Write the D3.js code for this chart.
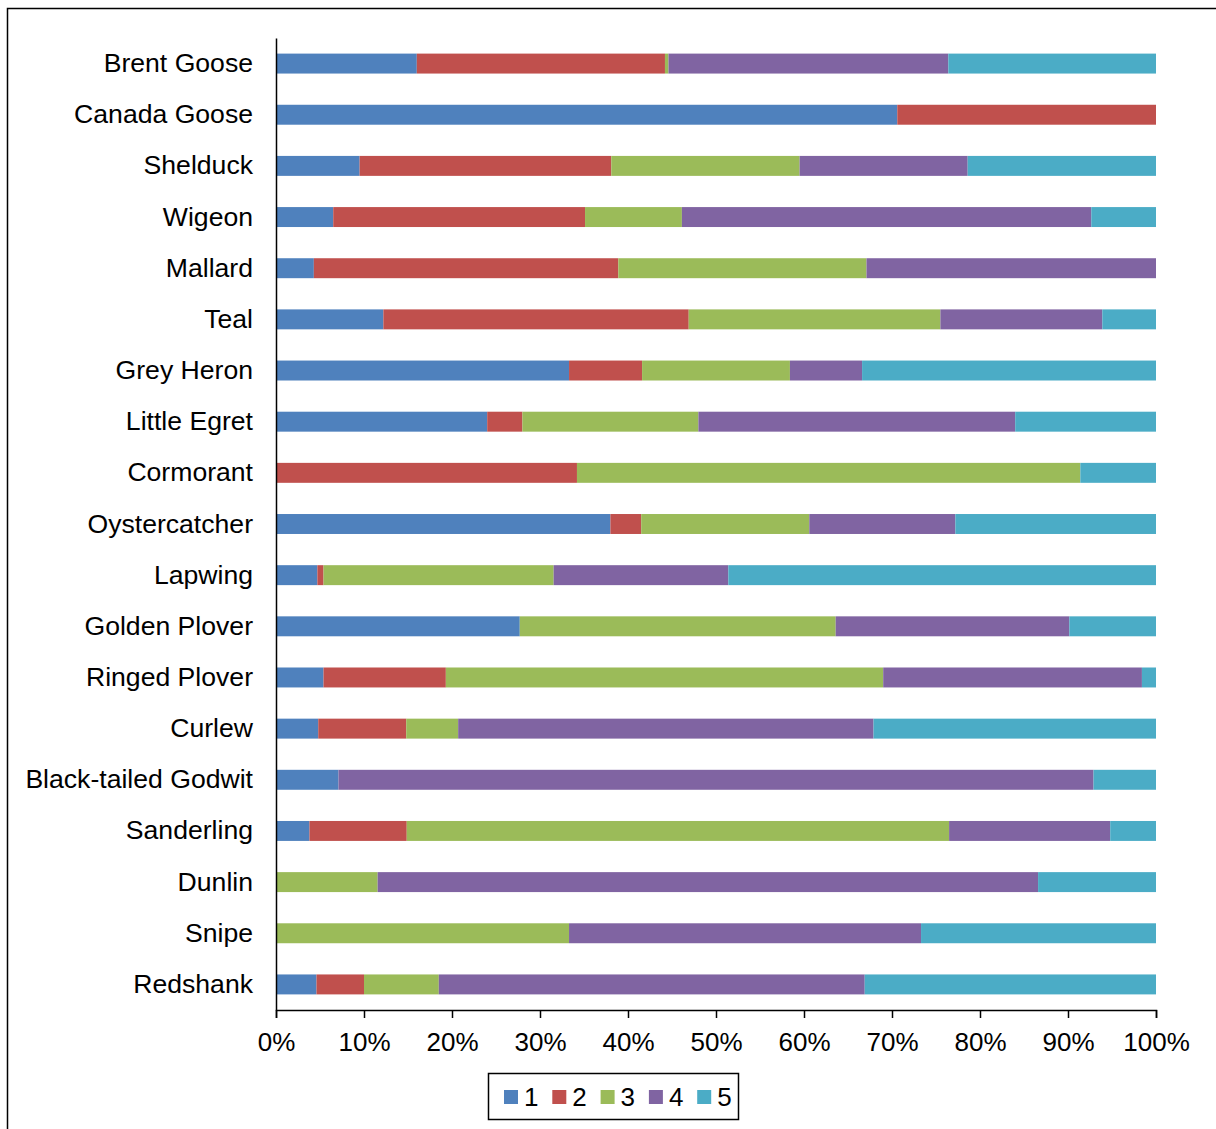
<!DOCTYPE html>
<html>
<head>
<meta charset="utf-8">
<script src="https://cdn.jsdelivr.net/npm/d3@7"></script>
<style>
  html, body { margin: 0; padding: 0; background: #fff; }
  svg { display: block; }
  text { font-family: "Liberation Sans", Arial, sans-serif; fill: #000; }
</style>
</head>
<body>
<svg id="chart" width="1216" height="1129"></svg>
<script>
const categories = ["Brent Goose","Canada Goose","Shelduck","Wigeon","Mallard","Teal","Grey Heron","Little Egret","Cormorant","Oystercatcher","Lapwing","Golden Plover","Ringed Plover","Curlew","Black-tailed Godwit","Sanderling","Dunlin","Snipe","Redshank"];
const seriesNames = ["1","2","3","4","5"];
const s1 = [16.0, 70.6, 9.5, 6.5, 4.3, 12.2, 33.3, 24.0, 0, 38.0, 4.7, 27.7, 5.4, 4.8, 7.1, 3.8, 0, 0, 4.6];
const s2 = [28.2, 29.4, 28.6, 28.6, 34.6, 34.7, 8.3, 4.0, 34.2, 3.5, 0.7, 0, 13.9, 10.0, 0, 11.05, 0, 0, 5.4];
const s3 = [0.4, 0, 21.4, 11.0, 28.2, 28.6, 16.8, 20.0, 57.2, 19.1, 26.15, 35.9, 49.7, 5.9, 0, 61.6, 11.55, 33.3, 8.5];
const s4 = [31.8, 0, 19.1, 46.5, 32.9, 18.4, 8.2, 36.0, 0, 16.6, 19.85, 26.55, 29.4, 47.2, 85.8, 18.3, 75.05, 40.0, 48.4];
const s5 = [23.6, 0, 21.4, 7.35, 0, 6.1, 33.4, 16.0, 8.6, 22.8, 48.6, 9.85, 1.6, 32.1, 7.1, 5.2, 13.4, 26.7, 33.1];
const xTicks = [0,10,20,30,40,50,60,70,80,90,100];
const colors = ["#4F81BD","#C0504D","#9BBB59","#8064A2","#4BACC6"];

(function () {
const svg = d3.select("#chart");

// outer chart border
svg.append("rect").attr("x", 7.5).attr("y", 8.5).attr("width", 1300).attr("height", 1300)
  .attr("fill", "none").attr("stroke", "#000").attr("stroke-width", 1.5);

const pLeft = 276, pRight = 1156, pTop = 38, pBottom = 1010;
const x = d3.scaleLinear().domain([0, 100]).range([pLeft, pRight]);
const y = d3.scaleBand().domain(categories).range([pTop, pBottom]).paddingInner(0.61).paddingOuter(0.305);

const table = categories.map((c, i) => {
  const row = { cat: c };
  [s1, s2, s3, s4, s5].forEach((s, k) => row[seriesNames[k]] = s[i]);
  return row;
});
const stacked = d3.stack().keys(seriesNames).offset(d3.stackOffsetExpand)(table);

const g = svg.append("g");
stacked.forEach((layer, k) => {
  g.append("g").attr("fill", colors[k])
    .selectAll("rect").data(layer).join("rect")
    .attr("x", d => x(d[0] * 100))
    .attr("width", d => Math.max(0, x(d[1] * 100) - x(d[0] * 100)))
    .attr("y", d => y(d.data.cat))
    .attr("height", y.bandwidth());
});

// x axis
const xAxis = d3.axisBottom(x).tickValues(xTicks).tickFormat(d => d + "%").tickSize(8).tickPadding(15);
const ax = svg.append("g").attr("transform", `translate(0,${pBottom})`).call(xAxis);
ax.select(".domain").attr("stroke", "#000").attr("stroke-width", 1.5);
ax.selectAll(".tick line").attr("stroke", "#000").attr("stroke-width", 1.5);
ax.selectAll("text").attr("font-size", 26).attr("font-family", "Liberation Sans, Arial, sans-serif").attr("fill", "#000");

// y axis
const yAxis = d3.axisLeft(y).tickSize(0).tickPadding(23);
const ay = svg.append("g").attr("transform", `translate(${pLeft},0)`).call(yAxis);
ay.select(".domain").attr("stroke", "#000").attr("stroke-width", 1.5);
ay.selectAll("text").attr("font-size", 26.6).attr("font-family", "Liberation Sans, Arial, sans-serif").attr("fill", "#000");

// legend
const lg = svg.append("g");
lg.append("rect").attr("x", 488.5).attr("y", 1073.5).attr("width", 250).attr("height", 46)
  .attr("fill", "#fff").attr("stroke", "#000").attr("stroke-width", 1.5);
seriesNames.forEach((n, k) => {
  const lx = 504 + k * 48.3;
  lg.append("rect").attr("x", lx).attr("y", 1090).attr("width", 14).attr("height", 14).attr("fill", colors[k]);
  lg.append("text").attr("x", lx + 20).attr("y", 1105.5).attr("font-size", 26).text(n);
});
})();
</script>
</body>
</html>
